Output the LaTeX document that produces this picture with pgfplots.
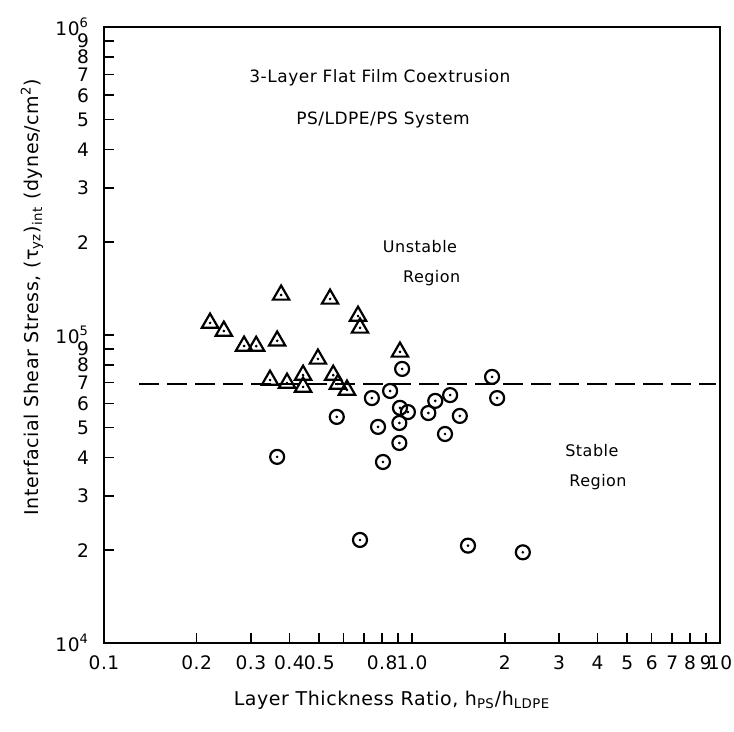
\documentclass[border=0pt]{standalone}
\usepackage{fontspec}
\setmainfont{DejaVu Sans}[LetterSpace=3]
\usepackage{pgfplots}
\usepackage{pgfplotstable}
\pgfplotsset{compat=1.18}

% triangles: unstable runs
\pgfplotstableread{
x      y
0.221  1.094e5
0.245  1.03e5
0.285  9.21e4
0.312  9.20e4
0.365  9.57e4
0.376  1.349e5
0.542  1.309e5
0.668  1.152e5
0.678  1.054e5
0.495  8.36e4
0.346  7.14e4
0.393  6.98e4
0.443  7.41e4
0.443  6.78e4
0.555  7.41e4
0.575  6.93e4
0.615  6.63e4
0.914  8.81e4
}\unstabletab

% circles: stable runs
\pgfplotstableread{
x      y
0.929  7.76e4
0.849  6.58e4
0.741  6.24e4
0.570  5.42e4
0.914  5.80e4
0.970  5.62e4
0.776  5.03e4
0.910  5.18e4
0.910  4.46e4
0.805  3.87e4
1.19   6.11e4
1.33   6.38e4
1.13   5.58e4
1.43   5.46e4
1.28   4.77e4
1.82   7.31e4
1.89   6.24e4
0.678  2.16e4
1.52   2.07e4
2.29   1.97e4
0.365  4.02e4
}\stabletab

\begin{document}
\begin{tikzpicture}
\begin{axis}[
  scale only axis,
  width=308pt, height=308pt,
  xmode=log, ymode=log,
  xmin=0.1, xmax=10, ymin=1e4, ymax=1e6,
  axis line style={line width=0.9pt},
  tick pos=left, tick align=inside,
  major tick length=5pt, minor tick length=5pt,
  tick style={line width=0.8pt, black},
  xtick={0.1,0.2,0.3,0.4,0.5,0.8,1,2,3,4,5,6,7,8,9,10},
  minor xtick={0.6,0.7,0.9},
  xticklabels={0.1,0.2,0.3,0.4,0.5,0.8,1.0,2,3,4,5,6,7,8,9,10},
  ytick={1e4,2e4,3e4,4e4,5e4,6e4,7e4,8e4,9e4,1e5,2e5,3e5,4e5,5e5,6e5,7e5,8e5,9e5,1e6},
  yticklabels={10\textsuperscript{4},2,3,4,5,6,7,8,9,10\textsuperscript{5},2,3,4,5,6,7,8,9,10\textsuperscript{6}},
  ticklabel style={font=\fontsize{9.3}{10}\selectfont},
  xticklabel style={yshift=-3pt},
  yticklabel style={xshift=-4pt},
  xlabel={Layer Thickness Ratio, h\textsubscript{PS}/h\textsubscript{LDPE}},
  xlabel style={font=\fontsize{9.5}{11}\selectfont, at={(rel axis cs:0.4675,-0.0925)}, anchor=center},
  ylabel={Interfacial Shear Stress, (τ\textsubscript{yz})\textsubscript{int} (dynes/cm\textsuperscript{2})},
  ylabel style={font=\fontsize{9.5}{11}\selectfont, at={(rel axis cs:-0.117,0.5617)}, anchor=center},
]
\addplot[dashed, line width=0.9pt, dash pattern=on 10pt off 4pt] coordinates {(0.13,6.93e4) (9.7,6.93e4)};
\addplot[only marks, mark=triangle, mark size=4.7pt, mark options={line width=1.1pt}] table {\unstabletab};
\addplot[only marks, mark=*, mark size=0.45pt] table {\unstabletab};
\addplot[only marks, mark=o, mark size=3.5pt, mark options={line width=1.1pt}] table {\stabletab};
\addplot[only marks, mark=*, mark size=0.45pt] table {\stabletab};

\node[font=\fontsize{8.5}{10}\selectfont] at (rel axis cs:0.448,0.917) {3-Layer Flat Film Coextrusion};
\node[font=\fontsize{8.5}{10}\selectfont] at (rel axis cs:0.453,0.849) {PS/LDPE/PS System};
\node[font=\fontsize{8}{10}\selectfont] at (rel axis cs:0.513,0.644) {Unstable};
\node[font=\fontsize{8}{10}\selectfont] at (rel axis cs:0.532,0.593) {Region};
\node[font=\fontsize{8}{10}\selectfont] at (rel axis cs:0.792,0.313) {Stable};
\node[font=\fontsize{8}{10}\selectfont] at (rel axis cs:0.802,0.261) {Region};

\coordinate (bl) at (rel axis cs:-0.1688,-0.1429);
\coordinate (tr) at (rel axis cs:1.0227,1.0438);
\end{axis}
\pgfresetboundingbox
\path (bl) rectangle (tr);
\end{tikzpicture}
\end{document}
